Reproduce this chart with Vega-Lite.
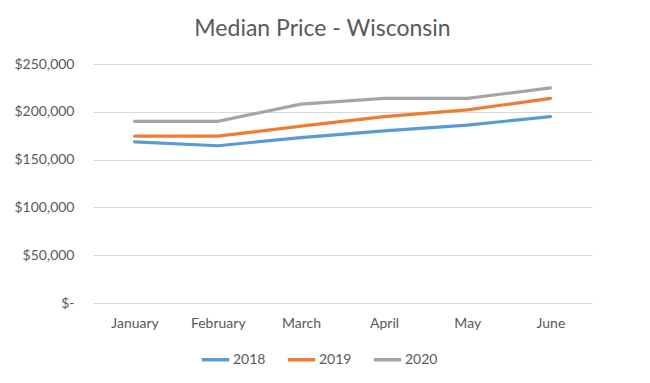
{
  "$schema": "https://vega.github.io/schema/vega-lite/v6.json",
  "autosize": "none",
  "width": 499,
  "height": 239,
  "padding": {"left": 93, "top": 64, "right": 58, "bottom": 80},
  "background": "white",
  "title": {"text": "Median Price - Wisconsin", "fontSize": 23, "font": "Lato", "fontWeight": "normal", "color": "#595959", "anchor": "middle", "dx": -20, "offset": 16},
  "data": {"values": [
    {"month": "January", "year": "2018", "price": 168500},
    {"month": "February", "year": "2018", "price": 164500},
    {"month": "March", "year": "2018", "price": 173000},
    {"month": "April", "year": "2018", "price": 180000},
    {"month": "May", "year": "2018", "price": 186000},
    {"month": "June", "year": "2018", "price": 195000},
    {"month": "January", "year": "2019", "price": 174500},
    {"month": "February", "year": "2019", "price": 174500},
    {"month": "March", "year": "2019", "price": 185000},
    {"month": "April", "year": "2019", "price": 195000},
    {"month": "May", "year": "2019", "price": 202000},
    {"month": "June", "year": "2019", "price": 214000},
    {"month": "January", "year": "2020", "price": 190000},
    {"month": "February", "year": "2020", "price": 190000},
    {"month": "March", "year": "2020", "price": 208000},
    {"month": "April", "year": "2020", "price": 214000},
    {"month": "May", "year": "2020", "price": 214000},
    {"month": "June", "year": "2020", "price": 225000}
  ]},
  "mark": {"type": "line", "strokeWidth": 3.2, "strokeCap": "round"},
  "encoding": {
    "x": {"field": "month", "type": "ordinal", "sort": ["January", "February", "March", "April", "May", "June"],
      "scale": {"paddingInner": 0, "paddingOuter": 0.5},
      "axis": {"title": null, "labelAngle": 0, "ticks": false, "domain": false, "labelPadding": 13, "labelFontSize": 14, "labelFont": "Lato", "labelColor": "#595959"}},
    "y": {"field": "price", "type": "quantitative", "scale": {"domain": [0, 250000], "nice": false},
      "axis": {"title": null, "values": [0, 50000, 100000, 150000, 200000, 250000], "ticks": false, "domain": false, "gridColor": "#d9d9d9", "gridWidth": 1,
        "labelExpr": "datum.value == 0 ? '$-' : '$' + format(datum.value, ',')",
        "labelPadding": 19, "labelFontSize": 14, "labelFont": "Lato", "labelColor": "#595959"}},
    "color": {"field": "year", "type": "nominal",
      "scale": {"domain": ["2018", "2019", "2020"], "range": ["#5B9BD5", "#ED7D31", "#A5A5A5"]},
      "legend": {"title": null, "orient": "none", "direction": "horizontal", "legendX": 107, "legendY": 280,
        "symbolType": "stroke", "symbolSize": 750, "symbolStrokeWidth": 3.5, "labelFontSize": 14, "labelFont": "Lato", "labelColor": "#595959", "columnPadding": 14, "labelOffset": 2}}
  },
  "config": {"view": {"stroke": null}}
}
